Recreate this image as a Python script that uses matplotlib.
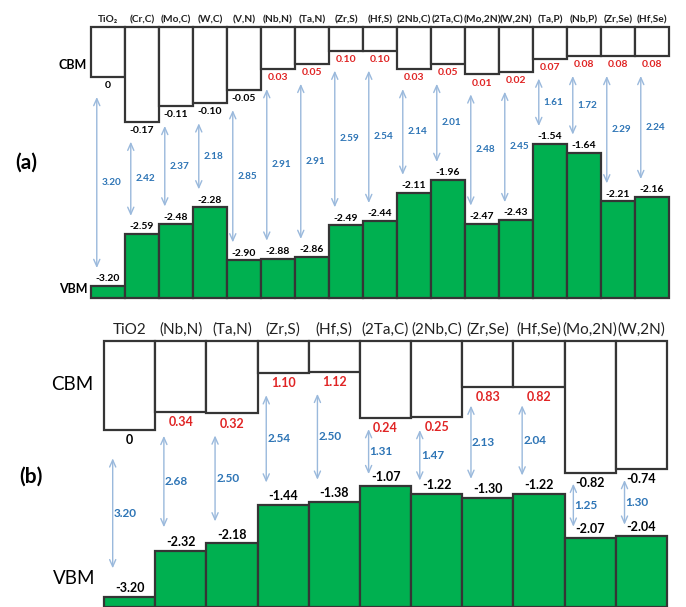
import matplotlib
matplotlib.use('Agg')
import matplotlib.pyplot as plt

plt.rcParams['font.family'] = ['Lato', 'DejaVu Sans']

# panel (a): doped TiO2, band edges in eV
labels_a = ['TiO₂', '(Cr,C)', '(Mo,C)', '(W,C)', '(V,N)', '(Nb,N)', '(Ta,N)', '(Zr,S)', '(Hf,S)',
            '(2Nb,C)', '(2Ta,C)', '(Mo,2N)', '(W,2N)', '(Ta,P)', '(Nb,P)', '(Zr,Se)', '(Hf,Se)']
cbm_a = [0, -0.17, -0.11, -0.10, -0.05, 0.03, 0.05, 0.10, 0.10, 0.03, 0.05, 0.01, 0.02, 0.07, 0.08, 0.08, 0.08]
vbm_a = [-3.20, -2.59, -2.48, -2.28, -2.90, -2.88, -2.86, -2.49, -2.44, -2.11, -1.96, -2.47, -2.43,
         -1.54, -1.64, -2.21, -2.16]
gap_a = [3.20, 2.42, 2.37, 2.18, 2.85, 2.91, 2.91, 2.59, 2.54, 2.14, 2.01, 2.48, 2.45, 1.61, 1.72, 2.29, 2.24]

# panel (b)
labels_b = ['TiO2', '(Nb,N)', '(Ta,N)', '(Zr,S)', '(Hf,S)', '(2Ta,C)', '(2Nb,C)', '(Zr,Se)', '(Hf,Se)',
            '(Mo,2N)', '(W,2N)']
cbm_b = [0, 0.34, 0.32, 1.10, 1.12, 0.24, 0.25, 0.83, 0.82, -0.82, -0.74]
vbm_b = [-3.20, -2.32, -2.18, -1.44, -1.38, -1.07, -1.22, -1.30, -1.22, -2.07, -2.04]
gap_b = [3.20, 2.68, 2.50, 2.54, 2.50, 1.31, 1.47, 2.13, 2.04, 1.25, 1.30]

W, H, DPI = 686, 607, 100
EDGE = '#353535'
GREEN = '#00b050'
RED = '#e02424'
BLUE = '#2e75b6'
ARROW = '#9ab9dc'

fig = plt.figure(figsize=(W / DPI, H / DPI), dpi=DPI)


def px_axes(left, top, right, bottom):
    ax = fig.add_axes([left / W, 1 - bottom / H, (right - left) / W, (bottom - top) / H])
    ax.axis('off')
    return ax


def fmt(v):
    return '0' if v == 0 else f'{v:.2f}'


def draw_boxes(ax, cbm, labels, fs_name, fw_name, fs_val, name_pad):
    x = list(range(len(cbm)))
    top = ax.get_ylim()[1]
    ax.bar(x, [top - c for c in cbm], bottom=cbm, width=1, align='edge', color='white',
           edgecolor=EDGE, linewidth=1.6, clip_on=False, zorder=2)
    for i, (c, name) in enumerate(zip(cbm, labels)):
        ax.annotate(name, (i + 0.5, top), xytext=(0, name_pad), textcoords='offset points',
                    ha='center', va='bottom', fontsize=fs_name, fontweight=fw_name,
                    color='#222222', annotation_clip=False)
        ax.annotate(fmt(c), (i + 0.5, c), xytext=(0, -3), textcoords='offset points',
                    ha='center', va='top', fontsize=fs_val, fontweight='bold',
                    color=RED if c > 0 else 'black', annotation_clip=False)


def draw_bars(ax, vbm, fs_val):
    x = list(range(len(vbm)))
    base = ax.get_ylim()[0]
    ax.bar(x, [v - base for v in vbm], bottom=base, width=1, align='edge', color=GREEN,
           edgecolor=EDGE, linewidth=1.6, clip_on=False, zorder=2)
    for i, v in enumerate(vbm):
        ax.annotate(fmt(v), (i + 0.5, v), xytext=(0, 2), textcoords='offset points',
                    ha='center', va='bottom', fontsize=fs_val, fontweight='bold',
                    color='black', annotation_clip=False)


def draw_gaps(ax_c, ax_v, cbm, vbm, gap, sh_top, sh_bot, frac, dx, fs):
    for i, (c, v, g) in enumerate(zip(cbm, vbm, gap)):
        xa = i + 0.17
        p_top = ax_c.transData.transform((xa, c))
        p_bot = ax_v.transData.transform((xa, v))
        length = p_top[1] - p_bot[1]
        st = sh_top + frac * length
        sb = sh_bot + frac * length
        ax_c.annotate('', xy=(xa, v), xycoords=ax_v.transData, xytext=(xa, c),
                      textcoords=ax_c.transData, annotation_clip=False,
                      arrowprops=dict(arrowstyle='<->,head_length=0.5,head_width=0.22',
                                      color=ARROW, lw=1.0, mutation_scale=10,
                                      shrinkA=st * 72 / DPI, shrinkB=sb * 72 / DPI))
        ymid = (p_top[1] - st + p_bot[1] + sb) / 2
        fig.text((p_top[0] + dx) / W, ymid / H, f'{g:.2f}', ha='left', va='center',
                 fontsize=fs, fontweight='bold', color=BLUE)


# ---- (a): broken energy axis, CBM part and VBM part on separate scales
ax_ac = px_axes(91, 27, 669, 135)
ax_ac.set_xlim(0, len(cbm_a))
ax_ac.set_ylim(-0.2205, 0.19)
ax_av = px_axes(91, 135, 669, 298)
ax_av.set_xlim(0, len(vbm_a))
ax_av.set_ylim(-3.34, -1.434)

draw_boxes(ax_ac, cbm_a, labels_a, 7.3, 'bold', 7.5, 2)
draw_bars(ax_av, vbm_a, 7.5)
draw_gaps(ax_ac, ax_av, cbm_a, vbm_a, gap_a, 20, 18, 0.0, 5, 7.2)

fig.text(26 / W, 1 - 163 / H, '(a)', ha='center', va='center', fontsize=15, fontweight='bold')
fig.text(87 / W, 1 - 65 / H, 'CBM', ha='right', va='center', fontsize=9, fontweight='bold')
fig.text(88 / W, 1 - 289 / H, 'VBM', ha='right', va='center', fontsize=9, fontweight='bold')

# ---- (b): single energy axis
ax_b = px_axes(104, 341, 667, 607)
ax_b.set_xlim(0, len(cbm_b))
ax_b.set_ylim(-3.40, 1.71)

draw_boxes(ax_b, cbm_b, labels_b, 11, 'normal', 9, 3)
draw_bars(ax_b, vbm_b, 9)
draw_gaps(ax_b, ax_b, cbm_b, vbm_b, gap_b, 0, 0, 0.17, 1, 8.5)

fig.text(31 / W, 1 - 477 / H, '(b)', ha='center', va='center', fontsize=15, fontweight='bold')
fig.text(93 / W, 1 - 385 / H, 'CBM', ha='right', va='center', fontsize=13.5)
fig.text(95 / W, 1 - 578 / H, 'VBM', ha='right', va='center', fontsize=13.5)

fig.savefig('out.png', dpi=DPI)
